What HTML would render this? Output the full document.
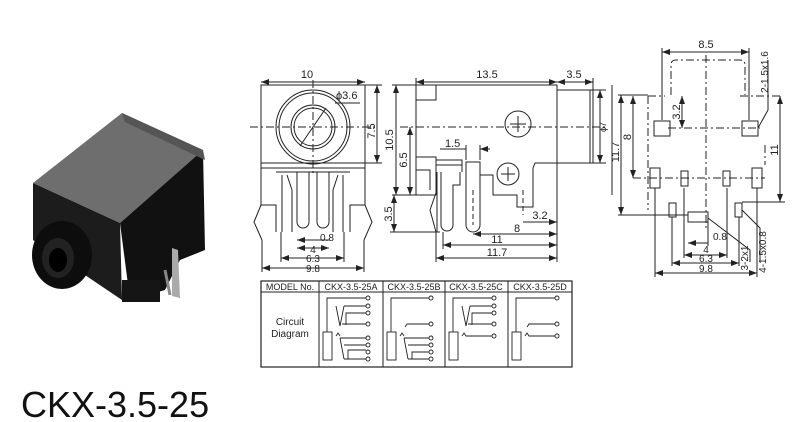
<!DOCTYPE html>
<html><head><style>
html,body{margin:0;padding:0;background:#fff;}
svg{display:block;font-family:"Liberation Sans",Arial,sans-serif;}
</style></head><body>
<svg width="800" height="422" viewBox="0 0 800 422" xmlns="http://www.w3.org/2000/svg">
<defs>
<marker id="a" markerWidth="8" markerHeight="6" refX="8" refY="3" orient="auto-start-reverse" markerUnits="userSpaceOnUse"><path d="M0,0 L8,3 L0,6 z" fill="#222"/></marker>
</defs>
<rect width="800" height="422" fill="#fff"/>

<!-- photo -->
<g>
<polygon points="33,183 122,113 203,150 120,223" fill="#6e6e6e"/>
<polygon points="33,183 120,223 122,300 33,240" fill="#1c1c1c"/>
<polygon points="120,223 203,150 205,250 180,260 165,290 130,300" fill="#111"/>
<polygon points="122,113 203,150 205,160 125,122" fill="#555"/>
<rect x="122" y="280" width="38" height="22" fill="#151515"/>
<ellipse cx="62" cy="255" rx="30" ry="34" fill="#0d0d0d"/>
<ellipse cx="58" cy="258" rx="16" ry="20" fill="#222"/>
<ellipse cx="58" cy="260" rx="9" ry="12" fill="#000"/>
<path d="M172,248 L178,250 L180,298 L172,296 z" fill="#aaa"/>
<path d="M165,270 L170,295" stroke="#888" stroke-width="3"/>
</g>
<text x="21" y="417" font-size="36" fill="#111">CKX-3.5-25</text>

<g fill="none" stroke="#222" stroke-width="1">
<!-- FRONT VIEW -->
<rect x="261" y="85" width="104" height="83"/>
<line x1="261" y1="163" x2="365" y2="163"/>
<circle cx="313" cy="127" r="37"/><circle cx="313" cy="127" r="34"/>
<circle cx="313" cy="127" r="22"/><circle cx="313" cy="127" r="19"/>
<line x1="300" y1="146" x2="326" y2="108"/>
<line x1="250" y1="127" x2="375" y2="127" stroke-dasharray="8,3,2,3"/>
<line x1="313" y1="80" x2="313" y2="175" stroke-dasharray="8,3,2,3"/>
<path d="M261,168 V205 H276 V232 M365,168 V205 H350 V232"/>
<path d="M276,172 H350"/>
<path d="M261,205 L254,222 L262,240 M365,205 L372,222 L364,240"/>
<path d="M282,175 V232 M343,175 V232"/>
<path d="M287,175 L292,190 V232 M338,175 L333,190 V232"/>
<path d="M297,172 V222 A6,6 0 0 0 309,222 V172"/>
<path d="M317,172 V222 A6,6 0 0 0 329,222 V172"/>
<!-- dims front -->
<line x1="261" y1="82" x2="365" y2="82" marker-start="url(#a)" marker-end="url(#a)"/>
<line x1="365" y1="85" x2="382" y2="85"/><line x1="365" y1="163" x2="382" y2="163"/>
<line x1="377" y1="85" x2="377" y2="163" marker-start="url(#a)" marker-end="url(#a)"/>
<line x1="335" y1="103" x2="360" y2="103"/>
<line x1="297" y1="240" x2="330" y2="240" marker-start="url(#a)"/>
<line x1="297" y1="248" x2="329" y2="248" marker-start="url(#a)" marker-end="url(#a)"/>
<line x1="281" y1="258" x2="344" y2="258" marker-start="url(#a)" marker-end="url(#a)"/>
<line x1="262" y1="268" x2="364" y2="268" marker-start="url(#a)" marker-end="url(#a)"/>
<path d="M262,240 V272 M364,240 V272 M281,232 V262 M344,232 V262"/>

<!-- SIDE VIEW -->
<path d="M416,85 H557 V163 H535 L533,168 V207 H517 V195 H493 V175 H480"/>
<path d="M416,85 V195 H436"/>
<rect x="416" y="85" width="20" height="15"/>
<path d="M557,90 H593 V163 H557"/><path d="M590,90 V163"/>
<path d="M416,157 H436 V195 M416,170 H430 V190"/>
<path d="M436,160 H462 V172 M436,165 H462"/>
<path d="M437,190 L430,210 L436,232 M437,172 V232"/>
<path d="M441,172 V225 A6,6 0 0 0 453,225 V185 H460 V172"/>
<path d="M466,162 V225 A7,7 0 0 0 480,225 V162 Z"/>
<circle cx="518" cy="124" r="13"/><path d="M510,124 H526 M518,116 V132"/>
<circle cx="508" cy="174" r="11"/><path d="M501,174 H515 M508,167 V181"/>
<line x1="400" y1="127" x2="605" y2="127" stroke-dasharray="8,3,2,3"/>
<line x1="473" y1="190" x2="473" y2="225" stroke-dasharray="5,3"/>
<line x1="523" y1="190" x2="523" y2="215" stroke-dasharray="5,3"/>
<!-- dims side -->
<line x1="416" y1="82" x2="557" y2="82" marker-start="url(#a)" marker-end="url(#a)"/>
<line x1="557" y1="82" x2="593" y2="82" marker-start="url(#a)" marker-end="url(#a)"/>
<path d="M416,78 V85 M593,78 V90"/>
<line x1="396" y1="85" x2="396" y2="195" marker-start="url(#a)" marker-end="url(#a)"/>
<line x1="410" y1="127" x2="410" y2="195" marker-start="url(#a)" marker-end="url(#a)"/>
<line x1="394" y1="195" x2="394" y2="232" marker-start="url(#a)" marker-end="url(#a)"/>
<path d="M392,85 H416 M392,195 H416 M390,232 H440"/>
<line x1="440" y1="149" x2="466" y2="149"/>
<line x1="480" y1="149" x2="490" y2="149" marker-start="url(#a)"/>
<path d="M466,145 V160 M480,145 V160"/>
<line x1="600" y1="90" x2="600" y2="163" marker-start="url(#a)" marker-end="url(#a)"/>
<path d="M593,90 H606 M593,163 H606"/>
<line x1="612" y1="85" x2="612" y2="195"/>
<line x1="523" y1="222" x2="557" y2="222" marker-end="url(#a)"/>
<line x1="473" y1="234" x2="557" y2="234" marker-start="url(#a)" marker-end="url(#a)"/>
<line x1="443" y1="245" x2="557" y2="245" marker-start="url(#a)" marker-end="url(#a)"/>
<line x1="436" y1="258" x2="557" y2="258" marker-start="url(#a)" marker-end="url(#a)"/>
<path d="M557,163 V262 M436,232 V262 M443,232 V249"/>

<!-- PCB VIEW -->
<line x1="662" y1="52" x2="749" y2="52" marker-start="url(#a)" marker-end="url(#a)"/>
<path d="M662,48 V120 M749,48 V120"/>
<path d="M671,95 V65 Q671,60 676,60 H740 Q745,60 745,65 V95" stroke-dasharray="8,3,2,3"/>
<path d="M648,96 H665 M740,96 H780" stroke-dasharray="8,3,2,3"/>
<line x1="648" y1="96" x2="648" y2="210" stroke-dasharray="8,3,2,3"/>
<line x1="765" y1="145" x2="765" y2="165" stroke-dasharray="8,3,2,3"/>
<line x1="706" y1="55" x2="706" y2="230" stroke-dasharray="8,3,2,3"/>
<line x1="668" y1="128" x2="760" y2="128" stroke-dasharray="8,3,2,3"/>
<line x1="633" y1="178" x2="765" y2="178" stroke-dasharray="8,3,2,3"/>
<rect x="654" y="121" width="16" height="15"/><rect x="742" y="121" width="16" height="15"/>
<rect x="650" y="168" width="10" height="20"/><rect x="681" y="171" width="7" height="15"/>
<rect x="723" y="171" width="7" height="15"/><rect x="752" y="168" width="10" height="20"/>
<rect x="669" y="203" width="7" height="14"/><rect x="688" y="212" width="20" height="10"/><rect x="735" y="203" width="7" height="14"/>
<line x1="682" y1="96" x2="682" y2="128" marker-start="url(#a)" marker-end="url(#a)"/>
<line x1="633" y1="96" x2="633" y2="178" marker-start="url(#a)" marker-end="url(#a)"/>
<line x1="621" y1="95" x2="621" y2="215" marker-start="url(#a)" marker-end="url(#a)"/>
<path d="M618,215 H688 M618,95 H648"/>
<line x1="780" y1="96" x2="780" y2="202" marker-start="url(#a)" marker-end="url(#a)"/>
<path d="M742,202 H785"/>
<line x1="688" y1="243" x2="708" y2="243" marker-start="url(#a)"/>
<line x1="684" y1="255" x2="727" y2="255" marker-start="url(#a)" marker-end="url(#a)"/>
<line x1="672" y1="263" x2="739" y2="263" marker-start="url(#a)" marker-end="url(#a)"/>
<line x1="655" y1="273" x2="757" y2="273" marker-start="url(#a)" marker-end="url(#a)"/>
<path d="M684,188 V258 M727,188 V258 M672,217 V266 M739,217 V266 M655,188 V277 M757,188 V277 M708,222 V246"/>
<path d="M708,218 L750,250 V262 M742,210 L760,228 V262 M758,128 L768,110 V60"/>

<!-- TABLE -->
<rect x="261" y="281" width="311" height="86" stroke-width="1.2"/>
<line x1="261" y1="292" x2="572" y2="292"/>
<path d="M319,281 V367 M383,281 V367 M445,281 V367 M508,281 V367"/>
</g>

<g font-size="11" fill="#222">
<text x="307" y="78" text-anchor="middle">10</text>
<text x="336" y="99">ϕ3.6</text>
<text x="378" y="131" transform="rotate(-90 378 131)" text-anchor="middle" dy="-3">7.5</text>
<text x="320" y="241" font-size="10">0.8</text>
<text x="313" y="253" text-anchor="middle" font-size="10">4</text>
<text x="313" y="262" text-anchor="middle" font-size="10">6.3</text>
<text x="313" y="272" text-anchor="middle" font-size="10">9.8</text>
<text x="487" y="78" text-anchor="middle">13.5</text>
<text x="574" y="78" text-anchor="middle">3.5</text>
<text x="393" y="140" transform="rotate(-90 393 140)" text-anchor="middle">10.5</text>
<text x="407" y="160" transform="rotate(-90 407 160)" text-anchor="middle">6.5</text>
<text x="392" y="214" transform="rotate(-90 392 214)" text-anchor="middle">3.5</text>
<text x="445" y="147">1.5</text>
<text x="540" y="219" text-anchor="middle">3.2</text>
<text x="517" y="232" text-anchor="middle">8</text>
<text x="497" y="243" text-anchor="middle">11</text>
<text x="497" y="256" text-anchor="middle">11.7</text>
<text x="606" y="127" transform="rotate(-90 606 127)" text-anchor="middle" font-size="9">ϕ7</text>
<text x="619" y="152" transform="rotate(-90 619 152)" text-anchor="middle">11.7</text>
<text x="706" y="48" text-anchor="middle">8.5</text>
<text x="680" y="112" transform="rotate(-90 680 112)" text-anchor="middle">3.2</text>
<text x="631" y="137" transform="rotate(-90 631 137)" text-anchor="middle">8</text>
<text x="778" y="150" transform="rotate(-90 778 150)" text-anchor="middle">11</text>
<text x="768" y="72" transform="rotate(-90 768 72)" text-anchor="middle" font-size="10">2-1.5x1.6</text>
<text x="713" y="240" font-size="10">0.8</text>
<text x="706" y="253" text-anchor="middle" font-size="10">4</text>
<text x="706" y="262" text-anchor="middle" font-size="10">6.3</text>
<text x="706" y="272" text-anchor="middle" font-size="10">9.8</text>
<text x="748" y="258" transform="rotate(-90 748 258)" text-anchor="middle" font-size="10">3-2x1</text>
<text x="766" y="252" transform="rotate(-90 766 252)" text-anchor="middle" font-size="10">4-1.5x0.8</text>
</g>

<g font-size="9" fill="#222">
<text x="290" y="290" text-anchor="middle">MODEL No.</text>
<text x="351" y="290" text-anchor="middle">CKX-3.5-25A</text>
<text x="414" y="290" text-anchor="middle">CKX-3.5-25B</text>
<text x="476" y="290" text-anchor="middle">CKX-3.5-25C</text>
<text x="540" y="290" text-anchor="middle">CKX-3.5-25D</text>
<text x="290" y="325" text-anchor="middle" font-size="10">Circuit</text>
<text x="290" y="337" text-anchor="middle" font-size="10">Diagram</text>
</g>

<g fill="none" stroke="#222" stroke-width="0.9">
<!-- A -->
<rect x="323" y="332" width="9" height="28"/>
<path d="M327,332 V298 H366 M344,306 H366 M344,306 L340,326 L336,306 M346,325 V313 H366 M342,324 H366"/>
<path d="M336,336 L338,333 L340,336 M340,338 H366 M340,338 L344,359 M344,345 H366 M348,359 V350 H366 M344,359 H366"/>
<circle cx="368" cy="298" r="2"/><circle cx="368" cy="306" r="2"/><circle cx="368" cy="313" r="2"/><circle cx="368" cy="324" r="2"/>
<circle cx="368" cy="338" r="2"/><circle cx="368" cy="345" r="2"/><circle cx="368" cy="352" r="2"/><circle cx="368" cy="359" r="2"/>
<!-- B -->
<rect x="387" y="332" width="9" height="28"/>
<path d="M391,332 V298 H429 M405,327 L407,324 H429 M400,336 L402,333 L404,336 M404,338 H429 M404,338 L408,359 M408,345 H429 M412,359 V352 H429 M408,359 H429"/>
<circle cx="431" cy="298" r="2"/><circle cx="431" cy="324" r="2"/><circle cx="431" cy="338" r="2"/><circle cx="431" cy="345" r="2"/><circle cx="431" cy="352" r="2"/><circle cx="431" cy="359" r="2"/>
<!-- C -->
<rect x="449" y="332" width="9" height="28"/>
<path d="M453,332 V298 H492 M470,306 H492 M470,306 L466,326 L462,306 M472,325 V313 H492 M468,324 H492 M462,336 L464,333 L466,336 H492"/>
<circle cx="494" cy="298" r="2"/><circle cx="494" cy="306" r="2"/><circle cx="494" cy="313" r="2"/><circle cx="494" cy="324" r="2"/><circle cx="494" cy="336" r="2"/>
<!-- D -->
<rect x="512" y="332" width="9" height="28"/>
<path d="M516,332 V298 H555 M527,327 L529,324 H555 M525,336 L527,333 L529,336 H555"/>
<circle cx="557" cy="298" r="2"/><circle cx="557" cy="324" r="2"/><circle cx="557" cy="336" r="2"/>
</g>
</svg>
</body></html>
